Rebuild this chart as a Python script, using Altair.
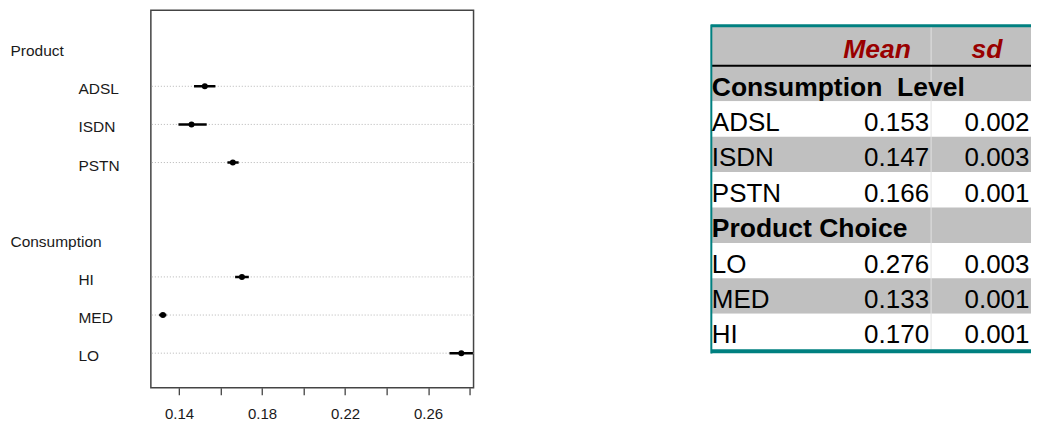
import json
import altair as alt
import pandas as pd

# ---------------- dot chart data ----------------
row_order = ["Product", "ADSL", "ISDN", "PSTN", " ", "Consumption", "HI", "MED", "LO"]
group_labels = ["Product", "Consumption"]
dot_labels = ["ADSL", "ISDN", "PSTN", "HI", "MED", "LO"]
dot_mean = [0.1524, 0.1460, 0.1659, 0.1703, 0.1322, 0.2760]
dot_low = [0.1472, 0.1397, 0.1633, 0.1670, 0.1304, 0.2703]
dot_high = [0.1575, 0.1533, 0.1687, 0.1736, 0.1339, 0.2816]
x_domain = [0.1264, 0.2819]
x_ticks = [0.14, 0.16, 0.18, 0.20, 0.22, 0.24, 0.26, 0.28]
x_tick_labels = ["0.14", "0.18", "0.22", "0.26"]

# ---------------- table data ----------------
table_header = ["Mean", "sd"]
table_labels = ["Consumption\u00a0\u00a0Level", "ADSL", "ISDN", "PSTN",
                "Product Choice", "LO", "MED", "HI"]
table_mean = ["", "0.153", "0.147", "0.166", "", "0.276", "0.133", "0.170"]
table_sd = ["", "0.002", "0.003", "0.001", "", "0.003", "0.001", "0.001"]
table_section = [True, False, False, False, True, False, False, False]
table_shaded = [True, False, True, False, True, False, True, False]

FONT = "Liberation Sans"
TXT = "#1a1a1a"
GRAY = "#c0c0c0"
TEAL = "#008080"
DARKRED = "#990000"

PLOT_W = 323
PLOT_H = 378
TABLE_W = 320
COL_W = 110.0

# ================= left: dot chart =================
dots = pd.DataFrame({"label": dot_labels, "mean": dot_mean,
                     "low": dot_low, "high": dot_high})

xs = alt.Scale(domain=x_domain, nice=False, zero=False)
ys = alt.Scale(type="point", domain=row_order, range=[38, 343.3], padding=0)

label_expr = ("indexof(" + json.dumps(x_tick_labels) +
              ", format(datum.value, '.2f')) >= 0 ? format(datum.value, '.2f') : ''")
xaxis = alt.Axis(values=x_ticks, labelExpr=label_expr, grid=False, domain=False,
                 ticks=True, tickSize=7, tickColor="#444", tickWidth=1.3,
                 labelPadding=12, labelFontSize=15, labelFont=FONT,
                 labelColor=TXT, title=None, labelFlush=False)
group_test = "indexof(" + json.dumps(group_labels) + ", datum.value) >= 0"
yaxis = alt.Axis(grid=False, domain=False, ticks=False, tickSize=0,
                 labelAlign="left", labelBaseline="middle",
                 labelPadding={"condition": {"test": group_test, "value": 141}, "value": 73},
                 labelOffset=2.5, labelFontSize=15.5, labelFont=FONT,
                 labelColor=TXT, title=None, labelLimit=0)

base = alt.Chart(dots)
grid = base.mark_rule(color="#b5b5b5", strokeWidth=1, strokeDash=[1, 2]).encode(
    y=alt.Y("label:N", scale=ys, axis=yaxis))
bars = base.mark_rule(color="black", strokeWidth=2.5, clip=True).encode(
    x=alt.X("low:Q", scale=xs, axis=xaxis), x2="high:Q",
    y=alt.Y("label:N", scale=ys, axis=yaxis))
pts = base.mark_circle(color="black", size=36, opacity=1).encode(
    x=alt.X("mean:Q", scale=xs, axis=xaxis),
    y=alt.Y("label:N", scale=ys, axis=yaxis))

left = alt.layer(grid, bars, pts).properties(
    width=PLOT_W, height=PLOT_H,
    view=alt.ViewBackground(stroke="#444", strokeWidth=1.5))

# ================= right: table =================
HEADER_H = 1.13
EXT = TABLE_W / COL_W
n = len(table_labels)
rows = pd.DataFrame({
    "top": [float(i) for i in range(n)],
    "bottom": [float(i + 1) for i in range(n)],
    "mid": [i + 0.5 for i in range(n)],
    "label": table_labels, "mean": table_mean, "sd": table_sd,
    "section": table_section,
    "fill": [GRAY if s else "#ffffff" for s in table_shaded],
    "x0": [0.0] * n, "x1": [EXT] * n,
    "cmean": [2.0] * n, "csd": [EXT] * n,
})
header = pd.DataFrame({"top": [-HEADER_H], "bottom": [0.0], "fill": [GRAY],
                       "x0": [0.0], "x1": [EXT]})
cells = pd.concat([header, rows[["top", "bottom", "fill", "x0", "x1"]]], ignore_index=True)

txs = alt.Scale(domain=[0, EXT], nice=False, zero=False)
tys = alt.Scale(domain=[-1.5712, 9.092], nice=False, zero=False, reverse=True)

fills = alt.Chart(cells).mark_rect().encode(
    x=alt.X("x0:Q", scale=txs, axis=None), x2="x1:Q",
    y=alt.Y("top:Q", scale=tys, axis=None), y2="bottom:Q",
    fill=alt.Fill("fill:N", scale=None))

divider = alt.Chart(pd.DataFrame({"x": [2.0], "top": [-HEADER_H], "bottom": [float(n)]})).mark_rule(
    color="#e2e2e2", strokeWidth=1).encode(
    x=alt.X("x:Q", scale=txs, axis=None),
    y=alt.Y("top:Q", scale=tys, axis=None), y2="bottom:Q")

hline = alt.Chart(pd.DataFrame({"y": [0.0], "x0": [0.0], "x1": [EXT]})).mark_rule(
    color="black", strokeWidth=2).encode(
    x=alt.X("x0:Q", scale=txs, axis=None), x2="x1:Q",
    y=alt.Y("y:Q", scale=tys, axis=None))

# teal border: top, bottom and left edges (right edge lies beyond the page)
border_h = pd.DataFrame({"y": [-HEADER_H, n + 0.06], "w": [3.0, 4.0],
                         "x0": [0.0, 0.0], "x1": [EXT, EXT]})
border_top_bottom = alt.Chart(border_h).mark_rule(color=TEAL).encode(
    x=alt.X("x0:Q", scale=txs, axis=None), x2="x1:Q",
    y=alt.Y("y:Q", scale=tys, axis=None),
    strokeWidth=alt.StrokeWidth("w:Q", scale=None))
border_left = alt.Chart(pd.DataFrame({"x": [0.0], "top": [-HEADER_H - 0.04], "bottom": [n + 0.12]})).mark_rule(
    color=TEAL, strokeWidth=2).encode(
    x=alt.X("x:Q", scale=txs, axis=None),
    y=alt.Y("top:Q", scale=tys, axis=None), y2="bottom:Q")

item_txt = alt.Chart(rows).transform_filter("!datum.section").mark_text(
    align="left", baseline="alphabetic", dx=0.5, dy=12, fontSize=26, font=FONT, color="black").encode(
    x=alt.X("x0:Q", scale=txs, axis=None), y=alt.Y("mid:Q", scale=tys, axis=None), text="label:N")

sect_txt = alt.Chart(rows).transform_filter("datum.section").mark_text(
    align="left", baseline="alphabetic", dx=0.5, dy=12, fontSize=26.5, fontWeight="bold",
    font=FONT, color="black").encode(
    x=alt.X("x0:Q", scale=txs, axis=None), y=alt.Y("mid:Q", scale=tys, axis=None), text="label:N")

mean_txt = alt.Chart(rows).mark_text(
    align="right", baseline="alphabetic", dx=-2, dy=12, fontSize=26, font=FONT, color="black").encode(
    x=alt.X("cmean:Q", scale=txs, axis=None), y=alt.Y("mid:Q", scale=tys, axis=None), text="mean:N")

sd_txt = alt.Chart(rows).mark_text(
    align="right", baseline="alphabetic", dx=-1.5, dy=12, fontSize=26, font=FONT, color="black").encode(
    x=alt.X("csd:Q", scale=txs, axis=None), y=alt.Y("mid:Q", scale=tys, axis=None), text="sd:N")

hdr = pd.DataFrame({"text": table_header, "x": [1.5, 2.5], "y": [-HEADER_H / 2] * 2})
hdr_txt = alt.Chart(hdr).mark_text(
    align="center", baseline="alphabetic", dx=1, dy=12, fontSize=26.5, fontWeight="bold",
    fontStyle="italic", font=FONT, color=DARKRED).encode(
    x=alt.X("x:Q", scale=txs, axis=None), y=alt.Y("y:Q", scale=tys, axis=None), text="text:N")

right = alt.layer(fills, divider, hline, border_top_bottom, border_left,
                  item_txt, sect_txt, mean_txt, sd_txt, hdr_txt).properties(
    width=TABLE_W, height=PLOT_H,
    view=alt.ViewBackground(stroke="transparent", strokeWidth=0))

chart = alt.hconcat(left, right, spacing=234).properties(
    padding={"left": 1, "top": 1, "right": 0, "bottom": 0}
).configure(font=FONT)

chart.save("out.html", embed_options={"renderer": "svg", "actions": False})
